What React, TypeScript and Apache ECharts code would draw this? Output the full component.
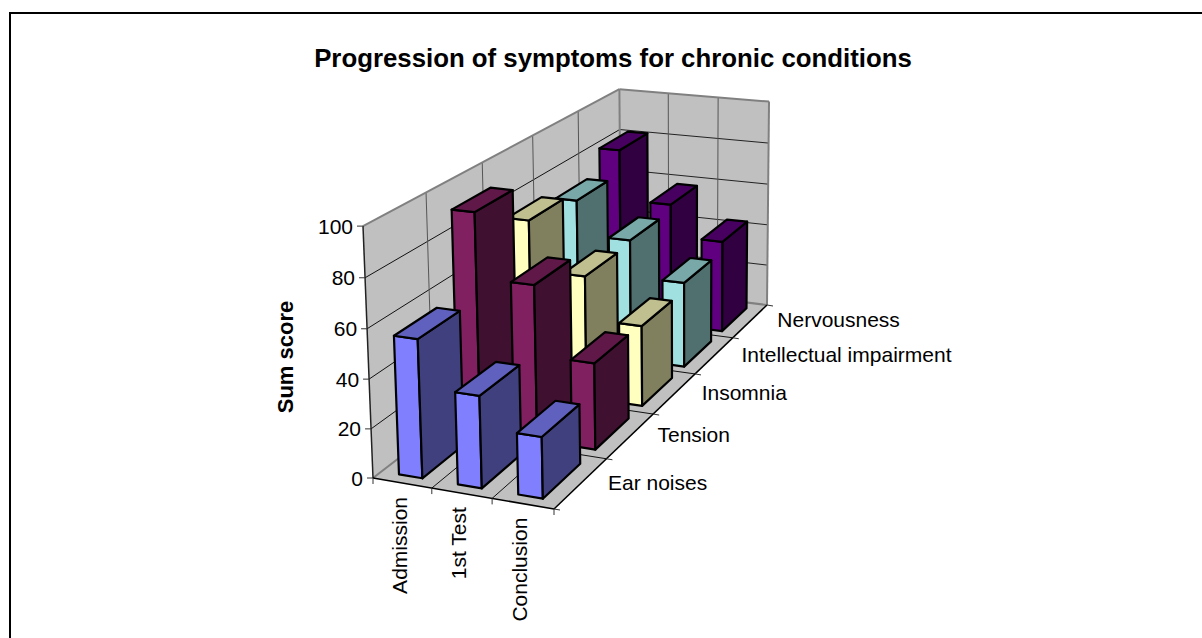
import React, { useEffect, useRef } from "react";
import * as echarts from "echarts";

const categories = ["Admission", "1st Test", "Conclusion"];
const depthLabels = ["Ear noises", "Tension", "Insomnia", "Intellectual impairment", "Nervousness"];
const earNoises = [56, 37, 24.5];
const tension = [92, 65, 36];
const insomnia = [75, 53.5, 35];
const impairment = [70.5, 55, 38.5];
const nervousness = [81.5, 58, 43];
const yTicks = [0, 20, 40, 60, 80, 100];

const rows = [earNoises, tension, insomnia, impairment, nervousness];
const faces = [
  { front: "#8080FF", side: "#40407F", top: "#6060BF" },
  { front: "#802060", side: "#401030", top: "#601848" },
  { front: "#FFFFC0", side: "#80805F", top: "#BFBF90" },
  { front: "#A0E0E0", side: "#507070", top: "#78A8A8" },
  { front: "#600080", side: "#300040", top: "#480060" },
];

const W = 1202;
const H = 638;
const FONT = "'Liberation Sans', Arial, sans-serif";

// Projective camera fitted to the corners of the plot box.
const P00 = [373, 478];
const P10 = [554, 509];
const P11 = [767, 305];
const P01 = [621, 287];
const NADIR = [687, 8387];
const TOP00 = [363, 226];

const dx1 = P10[0] - P11[0], dx2 = P01[0] - P11[0], sx = P00[0] - P10[0] + P11[0] - P01[0];
const dy1 = P10[1] - P11[1], dy2 = P01[1] - P11[1], sy = P00[1] - P10[1] + P11[1] - P01[1];
const det = dx1 * dy2 - dx2 * dy1;
const g = (sx * dy2 - dx2 * sy) / det;
const h = (dx1 * sy - sx * dy1) / det;
const a = P10[0] - P00[0] + g * P10[0];
const b = P01[0] - P00[0] + h * P01[0];
const d_ = P10[1] - P00[1] + g * P10[1];
const e = P01[1] - P00[1] + h * P01[1];
const w3 = (TOP00[0] - P00[0]) / (NADIR[0] - TOP00[0]);

function proj(c: number, d: number, v: number): number[] {
  const w = 1 + g * c + h * d + w3 * v;
  return [
    (a * c + b * d + w3 * NADIR[0] * v + P00[0]) / w,
    (d_ * c + e * d + w3 * NADIR[1] * v + P00[1]) / w,
  ];
}

const BAR_W = 0.4;
const BAR_D = 0.14;
const BAR_D0 = 0.027;

const line = (p: number[], q: number[], stroke: string, lineWidth = 1) => ({
  type: "line",
  shape: { x1: p[0], y1: p[1], x2: q[0], y2: q[1] },
  style: { stroke, lineWidth },
  silent: true,
});
const poly = (points: number[][], fill: string, stroke: string, lineWidth: number) => ({
  type: "polygon",
  shape: { points },
  style: { fill, stroke, lineWidth, lineJoin: "round" },
  silent: true,
});
const label = (
  text: string,
  x: number,
  y: number,
  align: string,
  rotation = 0
) => ({
  type: "text",
  x,
  y,
  rotation,
  silent: true,
  style: {
    text,
    x: 0,
    y: 0,
    fill: "#000",
    align,
    verticalAlign: "middle",
    fontFamily: FONT,
    fontSize: 21,
  },
});

export default function App() {
  const ref = useRef<HTMLDivElement>(null);
  useEffect(() => {
    document.body.style.margin = "0";
    const chart = echarts.init(ref.current!, null, { renderer: "svg" });

    const frameItem = (_p: any, api: any) => {
      const top = api.coord([0, 100])[1];
      const span = api.coord([0, 0])[1] - top;
      const U = (t: number) => 1 - (api.coord([0, t])[1] - top) / span;
      const kids: any[] = [];
      kids.push(poly([proj(0, 0, 0), proj(1, 0, 0), proj(1, 1, 0), proj(0, 1, 0)], "#C0C0C0", "none", 0));
      kids.push(poly([proj(0, 0, 0), proj(0, 1, 0), proj(0, 1, 1), proj(0, 0, 1)], "#C0C0C0", "none", 0));
      kids.push(poly([proj(0, 1, 0), proj(1, 1, 0), proj(1, 1, 1), proj(0, 1, 1)], "#C0C0C0", "none", 0));
      yTicks.slice(1, -1).forEach((t) => {
        kids.push(line(proj(0, 0, U(t)), proj(0, 1, U(t)), "#111"));
        kids.push(line(proj(0, 1, U(t)), proj(1, 1, U(t)), "#222"));
      });
      for (let i = 1; i < depthLabels.length; i++) {
        const d = i / depthLabels.length;
        kids.push(line(proj(0, d, 0), proj(1, d, 0), "#111"));
        kids.push(line(proj(0, d, 0), proj(0, d, 1), "#555"));
      }
      for (let i = 1; i < categories.length; i++) {
        const c = i / categories.length;
        kids.push(line(proj(c, 0, 0), proj(c, 1, 0), "#111"));
        kids.push(line(proj(c, 1, 0), proj(c, 1, 1), "#555"));
      }
      kids.push(line(proj(0, 0, 1), proj(0, 1, 1), "#808080", 2));
      kids.push(line(proj(0, 1, 1), proj(1, 1, 1), "#808080", 2));
      kids.push(line(proj(1, 1, 1), proj(1, 1, 0), "#808080", 2));
      kids.push(line(proj(0, 1, 1), proj(0, 1, 0), "#808080", 2));
      kids.push(line(proj(0, 0, 0), proj(0, 1, 0), "#808080", 2));
      kids.push(line(proj(0, 1, 0), proj(1, 1, 0), "#808080", 2));
      kids.push(line(proj(0, 0, 0), proj(0, 0, 1), "#222", 1.5));
      kids.push(line(proj(0, 0, 0), proj(1, 0, 0), "#000", 1.5));
      kids.push(line(proj(1, 0, 0), proj(1, 1, 0), "#000", 1.5));
      return { type: "group", children: kids };
    };

    const labelItem = (_p: any, api: any) => {
      const top = api.coord([0, 100])[1];
      const span = api.coord([0, 0])[1] - top;
      const U = (t: number) => 1 - (api.coord([0, t])[1] - top) / span;
      const kids: any[] = [];
      yTicks.forEach((t) => {
        const p = proj(0, 0, U(t));
        kids.push(line([p[0] - 6, p[1]], p, "#333"));
        kids.push(label(String(t), p[0] - 10, p[1], "right"));
      });
      for (let i = 0; i <= categories.length; i++) {
        const p = proj(i / categories.length, 0, 0);
        kids.push(line(p, [p[0], p[1] + 6], "#333"));
      }
      categories.forEach((name, i) => {
        const p = proj((i + 0.5) / categories.length, 0, 0);
        kids.push(label(name, p[0] - 3, p[1] + 14, "right", Math.PI / 2));
      });
      for (let i = 0; i <= depthLabels.length; i++) {
        const p = proj(1, i / depthLabels.length, 0);
        kids.push(line(p, [p[0] + 6, p[1] + 1], "#333"));
      }
      depthLabels.forEach((name, i) => {
        const p = proj(1, (i + 0.5) / depthLabels.length, 0);
        kids.push(label(name, p[0] + 27, p[1] - 1, "left"));
      });
      return { type: "group", children: kids };
    };

    const barSeries = rows
      .map((values, k) => ({
        type: "custom",
        name: depthLabels[k],
        coordinateSystem: "cartesian2d",
        silent: true,
        data: values.map((v, i) => [i + 0.5, v]),
        renderItem: (_p: any, api: any) => {
          const bottom = api.coord([0, 0]);
          const top = api.coord([0, 100])[1];
          const span = bottom[1] - top;
          const full = api.coord([3, 0])[0] - bottom[0];
          const mid = (api.coord([api.value(0), 0])[0] - bottom[0]) / full;
          const v = (bottom[1] - api.coord([0, api.value(1)])[1]) / span;
          const cw = (BAR_W / categories.length) / 2;
          const c0 = mid - cw;
          const c1 = mid + cw;
          const d0 = (k + BAR_D0 / 0.2) / depthLabels.length;
          const d1 = d0 + BAR_D;
          const f = faces[k];
          return {
            type: "group",
            children: [
              poly([proj(c0, d0, 0), proj(c1, d0, 0), proj(c1, d0, v), proj(c0, d0, v)], f.front, "#000", 2.2),
              poly([proj(c1, d0, 0), proj(c1, d1, 0), proj(c1, d1, v), proj(c1, d0, v)], f.side, "#000", 2.2),
              poly([proj(c0, d0, v), proj(c1, d0, v), proj(c1, d1, v), proj(c0, d1, v)], f.top, "#000", 2.2),
            ],
          };
        },
      }))
      .reverse();

    chart.setOption({
      animation: false,
      backgroundColor: "#fff",
      title: {
        text: "Progression of symptoms for chronic conditions",
        left: 608,
        top: 40,
        textAlign: "center",
        textStyle: { fontFamily: FONT, fontWeight: "bold", fontSize: 25.8, color: "#000" },
      },
      grid: { left: 0, right: 0, top: 0, bottom: 0 },
      xAxis: { type: "value", min: 0, max: 3, show: false },
      yAxis: { type: "value", min: 0, max: 100, show: false },
      graphic: [
        { type: "line", shape: { x1: 10, y1: 13, x2: 1202, y2: 13 }, style: { stroke: "#000", lineWidth: 2 }, silent: true },
        { type: "line", shape: { x1: 10, y1: 12, x2: 10, y2: 638 }, style: { stroke: "#000", lineWidth: 2 }, silent: true },
        {
          type: "text",
          x: 285,
          y: 357,
          rotation: Math.PI / 2,
          silent: true,
          style: {
            text: "Sum score",
            fill: "#000",
            align: "center",
            verticalAlign: "middle",
            fontFamily: FONT,
            fontWeight: "bold",
            fontSize: 22,
          },
        },
      ],
      series: [
        { type: "custom", coordinateSystem: "cartesian2d", silent: true, data: [[0, 0]], renderItem: frameItem, clip: false },
        ...barSeries,
        { type: "custom", coordinateSystem: "cartesian2d", silent: true, data: [[0, 0]], renderItem: labelItem, clip: false },
      ],
    });
    return () => chart.dispose();
  }, []);
  return <div ref={ref} style={{ width: W, height: H }} />;
}
